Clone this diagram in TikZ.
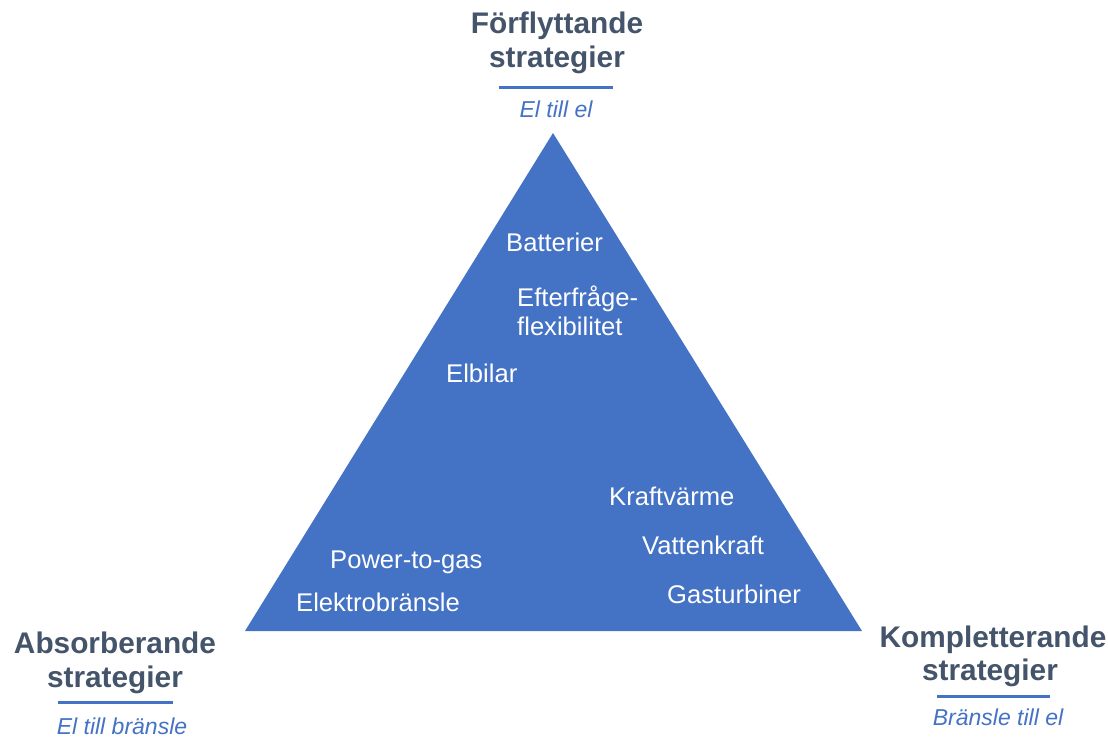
\documentclass[tikz,border=0pt]{standalone}
\usepackage{fontspec}
\setmainfont{Liberation Sans}
\definecolor{triblue}{HTML}{4472C4}
\definecolor{headgray}{HTML}{44546A}
\begin{document}
\begin{tikzpicture}[x=1pt,y=-1pt,
  head/.style={inner sep=0pt,anchor=base,text=headgray,font=\fontsize{29.8}{34}\selectfont\bfseries},
  sub/.style={inner sep=0pt,anchor=base,text=triblue,font=\fontsize{23}{26}\selectfont\itshape},
  lab/.style={inner sep=0pt,anchor=base west,text=white,font=\fontsize{25.6}{28}\selectfont},
  rule/.style={draw=triblue,line width=3pt}]
\useasboundingbox (0,0) rectangle (1108,737);
\coordinate (apex) at (553,133);
\coordinate (bl) at (245,631);
\coordinate (br) at (862,631);
\fill[triblue] (apex) -- (bl) -- (br) -- cycle;
% inner labels
\node[lab] (bat) at (506,251) {Batterier};
\node[lab] (eff1) at (517,306) {Efterfråge-};
\node[lab] (eff2) at (517,335) {flexibilitet};
\node[lab] (elb) at (446,382) {Elbilar};
\node[lab] (kv) at (609,505) {Kraftvärme};
\node[lab] (vk) at (642,554) {Vattenkraft};
\node[lab] (gt) at (667,603) {Gasturbiner};
\node[lab] (ptg) at (330,568) {Power-to-gas};
\node[lab] (ekb) at (296,611) {Elektrobränsle};
% top heading
\node[head] (t1) at (557,33) {Förflyttande};
\node[head] (t2) at (557,67) {strategier};
\coordinate (tu1) at (499,87);
\coordinate (tu2) at (613,87);
\draw[rule] (tu1) -- (tu2);
\node[sub] (ts) at (556,117) {El till el};
% left heading
\node[head] (l1) at (115,653) {Absorberande};
\node[head] (l2) at (115,687) {strategier};
\coordinate (lu1) at (58,702);
\coordinate (lu2) at (173,702);
\draw[rule] (lu1) -- (lu2);
\node[sub] (ls) at (122,734) {El till bränsle};
% right heading
\node[head] (r1) at (993,647) {Kompletterande};
\node[head] (r2) at (990,680) {strategier};
\coordinate (ru1) at (937,696);
\coordinate (ru2) at (1050,696);
\draw[rule] (ru1) -- (ru2);
\node[sub] (rs) at (998,725) {Bränsle till el};
\end{tikzpicture}
\end{document}
